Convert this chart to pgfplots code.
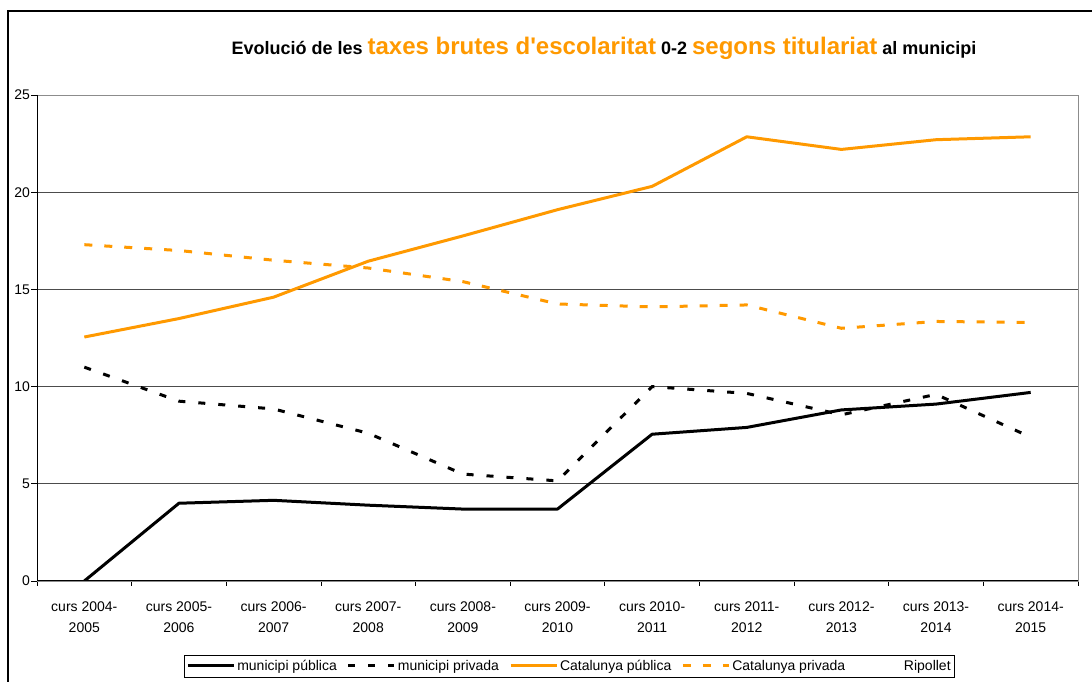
\documentclass[border=0pt]{standalone}
\usepackage{fontspec}
\setmainfont{Liberation Sans}
\usepackage{pgfplots}
\pgfplotsset{compat=1.18}
\definecolor{cat}{HTML}{FF9900}
\begin{document}
\begin{tikzpicture}
\path[use as bounding box] (-37pt,-101pt) rectangle (1055pt,581pt);
\draw[line width=1.2pt] (-29pt,-103pt) -- (-29pt,570pt) -- (1057pt,570pt);
\node[anchor=base,inner sep=0pt] at (567pt,526pt) {\fontsize{18}{20}\selectfont\bfseries Evolució de les \textcolor{cat}{\fontsize{24}{26}\selectfont taxes brutes d\textquotesingle escolaritat} 0-2 \textcolor{cat}{\fontsize{24}{26}\selectfont segons titulariat} al municipi};
\begin{axis}[
  scale only axis, width=1041pt, height=486pt,
  xmin=-0.5, xmax=10.5, ymin=0, ymax=25,
  ytick={0,5,10,15,20,25},
  ymajorgrids, major grid style={black!70, line width=0.7pt},
  axis line style={black!45, line width=0.8pt},
  xtick pos=bottom, ytick pos=left,
  tick align=outside, major tick length=6pt, minor tick length=5pt,
  xtick={0,1,2,3,4,5,6,7,8,9,10},
  minor xtick={-0.5,0.5,1.5,2.5,3.5,4.5,5.5,6.5,7.5,8.5,9.5,10.5},
  every major x tick/.append style={draw=none},
  every minor x tick/.append style={black, line width=0.8pt},
  every major y tick/.append style={black, line width=0.8pt},
  xticklabels={{curs 2004-\\2005},{curs 2005-\\2006},{curs 2006-\\2007},{curs 2007-\\2008},{curs 2008-\\2009},{curs 2009-\\2010},{curs 2010-\\2011},{curs 2011-\\2012},{curs 2012-\\2013},{curs 2013-\\2014},{curs 2014-\\2015}},
  xticklabel style={font=\fontsize{14}{21.5}\selectfont, align=center, yshift=-11pt},
  yticklabel style={font=\fontsize{14}{16}\selectfont, xshift=2.5pt},
  /pgf/number format/assume math mode=true,
  legend columns=5,
  legend image code/.code={\draw[#1] (0pt,0pt) -- (46pt,0pt);},
  legend style={at={(0.5115,-0.1749)}, anchor=center, draw=black, line width=0.8pt,
    font=\fontsize{14}{16}\selectfont, inner xsep=2pt, inner ysep=3pt,
    /tikz/every even column/.append style={column sep=8pt}},
  legend cell align=left,
]
\addplot[black, line width=3pt, line join=round] coordinates {(0,0) (1,4.0) (2,4.15) (3,3.9) (4,3.7) (5,3.7) (6,7.55) (7,7.9) (8,8.8) (9,9.1) (10,9.7)};
\addlegendentry{municipi pública}
\addplot[black, line width=3pt, dash pattern=on 7pt off 13pt] coordinates {(0,11.0) (1,9.25) (2,8.85) (3,7.6) (4,5.5) (5,5.15) (6,10.0) (7,9.65) (8,8.55) (9,9.6) (10,7.4)};
\addlegendentry{municipi privada}
\addplot[cat, line width=3pt, line join=round] coordinates {(0,12.55) (1,13.5) (2,14.6) (3,16.45) (4,17.75) (5,19.1) (6,20.3) (7,22.85) (8,22.2) (9,22.7) (10,22.85)};
\addlegendentry{Catalunya pública}
\addplot[cat, line width=3pt, dash pattern=on 8pt off 12pt] coordinates {(0,17.3) (1,17.0) (2,16.5) (3,16.1) (4,15.4) (5,14.25) (6,14.1) (7,14.2) (8,13.0) (9,13.35) (10,13.3)};
\addlegendentry{Catalunya privada}
\addlegendimage{white, draw opacity=0}
\addlegendentry{Ripollet}
\draw[black, line width=1pt] (rel axis cs:0,1) -- (rel axis cs:0,0) -- (rel axis cs:1,0);
\end{axis}
\end{tikzpicture}
\end{document}
